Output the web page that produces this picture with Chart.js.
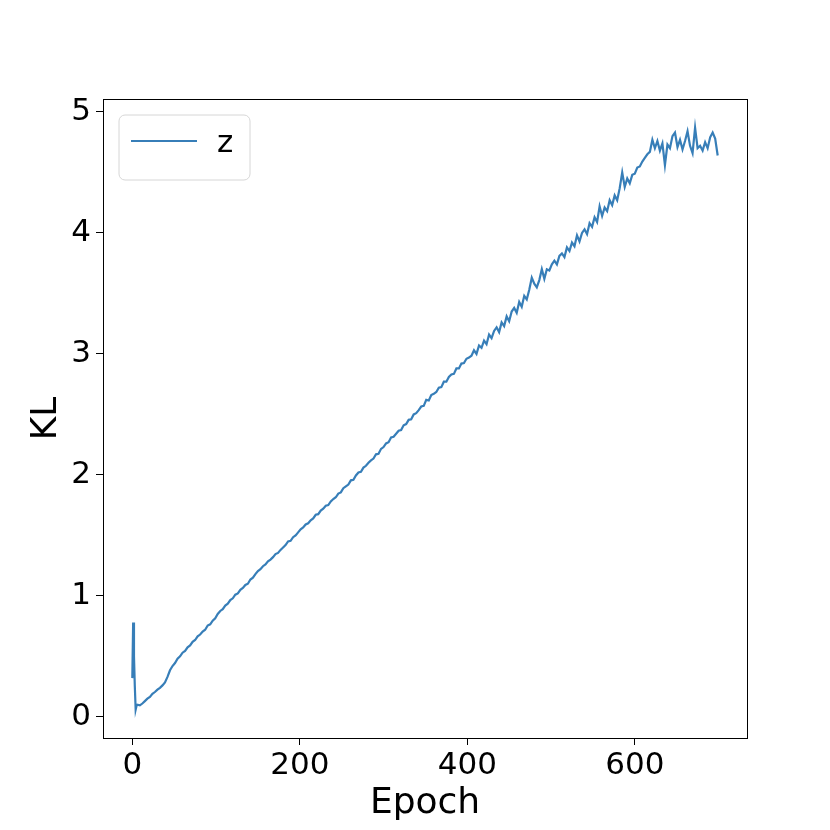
<!DOCTYPE html>
<html>
<head>
    <script src="https://cdn.jsdelivr.net/npm/chart.js@4.4.0/dist/chart.umd.min.js"></script>
    <style>
        body { margin: 0; background: #fff; }
    </style>
</head>
<body>
    <canvas id="grafico" width="830" height="830"></canvas>

    <script>
        // epoch values (denser at the start where the spike is)
        const epochs = [
            0, 1, 2, 3, 4, 5, 6, 9, 12, 15,
            18, 21, 24, 27, 30, 33, 36, 39, 42, 45,
            48, 51, 54, 57, 60, 63, 66, 69, 72, 75,
            78, 81, 84, 87, 90, 93, 96, 99, 102, 105,
            108, 111, 114, 117, 120, 123, 126, 129, 132, 135,
            138, 141, 144, 147, 150, 153, 156, 159, 162, 165,
            168, 171, 174, 177, 180, 183, 186, 189, 192, 195,
            198, 201, 204, 207, 210, 213, 216, 219, 222, 225,
            228, 231, 234, 237, 240, 243, 246, 249, 252, 255,
            258, 261, 264, 267, 270, 273, 276, 279, 282, 285,
            288, 291, 294, 297, 300, 303, 306, 309, 312, 315,
            318, 321, 324, 327, 330, 333, 336, 339, 342, 345,
            348, 351, 354, 357, 360, 363, 366, 369, 372, 375,
            378, 381, 384, 387, 390, 393, 396, 399, 402, 405,
            408, 411, 414, 417, 420, 423, 426, 429, 432, 435,
            438, 441, 444, 447, 450, 453, 456, 459, 462, 465,
            468, 471, 474, 477, 480, 483, 486, 489, 492, 495,
            498, 501, 504, 507, 510, 513, 516, 519, 522, 525,
            528, 531, 534, 537, 540, 543, 546, 549, 552, 555,
            558, 561, 564, 567, 570, 573, 576, 579, 582, 585,
            588, 591, 594, 597, 600, 603, 606, 609, 612, 615,
            618, 621, 624, 627, 630, 633, 636, 639, 642, 645,
            648, 651, 654, 657, 660, 663, 666, 669, 672, 675,
            678, 681, 684, 687, 690, 693, 696, 699
        ];

        const klZ = [
            0.32, 0.78, 0.50, 0.25, 0.06, 0.09, 0.10, 0.095, 0.11, 0.13,
            0.15, 0.165, 0.19, 0.205, 0.225, 0.24, 0.26, 0.285, 0.33, 0.385,
            0.42, 0.445, 0.48, 0.50, 0.53, 0.545, 0.575, 0.59, 0.62, 0.635,
            0.665, 0.68, 0.705, 0.72, 0.755, 0.765, 0.795, 0.815, 0.85, 0.875,
            0.89, 0.92, 0.935, 0.965, 0.98, 1.01, 1.02, 1.05, 1.065, 1.09,
            1.10, 1.135, 1.15, 1.18, 1.205, 1.22, 1.245, 1.26, 1.285, 1.30,
            1.32, 1.345, 1.355, 1.38, 1.40, 1.42, 1.45, 1.455, 1.485, 1.50,
            1.525, 1.55, 1.565, 1.59, 1.60, 1.625, 1.64, 1.67, 1.675, 1.705,
            1.72, 1.745, 1.75, 1.78, 1.80, 1.815, 1.845, 1.855, 1.89, 1.905,
            1.92, 1.955, 1.96, 1.995, 2.02, 2.025, 2.06, 2.075, 2.10, 2.12,
            2.135, 2.17, 2.175, 2.215, 2.23, 2.26, 2.27, 2.31, 2.315, 2.34,
            2.365, 2.37, 2.41, 2.42, 2.455, 2.46, 2.50, 2.51, 2.535, 2.565,
            2.57, 2.62, 2.615, 2.66, 2.67, 2.685, 2.72, 2.725, 2.77, 2.77,
            2.81, 2.83, 2.835, 2.88, 2.88, 2.92, 2.925, 2.96, 2.97, 2.985,
            3.03, 3.00, 3.07, 3.05, 3.11, 3.08, 3.16, 3.13, 3.19, 3.22,
            3.18, 3.26, 3.23, 3.31, 3.27, 3.35, 3.38, 3.34, 3.43, 3.39,
            3.48, 3.45, 3.53, 3.63, 3.58, 3.55, 3.61, 3.70, 3.62, 3.70,
            3.69, 3.74, 3.77, 3.74, 3.81, 3.83, 3.80, 3.88, 3.85, 3.92,
            3.89, 3.98, 3.93, 4.00, 4.03, 3.99, 4.08, 4.05, 4.13, 4.09,
            4.22, 4.14, 4.21, 4.18, 4.27, 4.23, 4.31, 4.27, 4.37, 4.50,
            4.38, 4.45, 4.41, 4.48, 4.49, 4.54, 4.55, 4.59, 4.62, 4.65,
            4.67, 4.77, 4.70, 4.76, 4.68, 4.74, 4.56, 4.73, 4.70, 4.80,
            4.83, 4.71, 4.77, 4.69, 4.76, 4.84, 4.72, 4.66, 4.87, 4.70,
            4.72, 4.68, 4.75, 4.70, 4.79, 4.83, 4.78, 4.64
        ];

        const xTicks = [0, 200, 400, 600];
        const yTicks = [0, 1, 2, 3, 4, 5];
        const serieName = 'z';
        const colore = '#377eb8';
        const fontFam = "'DejaVu Sans', sans-serif";

        // box around the plot + legend inside the axes, like matplotlib
        const cornice = {
            id: 'cornice',
            afterDraw(chart) {
                const ctx = chart.ctx;
                const a = chart.chartArea;
                ctx.save();
                ctx.strokeStyle = '#000';
                ctx.lineWidth = 1;
                ctx.strokeRect(a.left + 0.5, a.top + 0.5, a.right - a.left, a.bottom - a.top);

                // legenda
                const bx = a.left + 16, by = a.top + 16, bw = 131, bh = 65, r = 6;
                ctx.beginPath();
                ctx.moveTo(bx + r, by);
                ctx.arcTo(bx + bw, by, bx + bw, by + bh, r);
                ctx.arcTo(bx + bw, by + bh, bx, by + bh, r);
                ctx.arcTo(bx, by + bh, bx, by, r);
                ctx.arcTo(bx, by, bx + bw, by, r);
                ctx.closePath();
                ctx.fillStyle = 'rgba(255,255,255,0.8)';
                ctx.fill();
                ctx.strokeStyle = '#d6d6d6';
                ctx.lineWidth = 1;
                ctx.stroke();

                ctx.beginPath();
                ctx.moveTo(bx + 12, by + 26);
                ctx.lineTo(bx + 78, by + 26);
                ctx.strokeStyle = colore;
                ctx.lineWidth = 2.2;
                ctx.stroke();

                ctx.fillStyle = '#000';
                ctx.font = '31px ' + fontFam;
                ctx.textBaseline = 'alphabetic';
                ctx.fillText(serieName, bx + 98, by + 37);
                ctx.restore();
            }
        };

        const ctx = document.getElementById('grafico').getContext('2d');
        const chart = new Chart(ctx, {
            type: 'line',
            data: {
                datasets: [{
                    label: serieName,
                    data: epochs.map((e, i) => ({ x: e, y: klZ[i] })),
                    borderColor: colore,
                    borderWidth: 2.2,
                    pointRadius: 0,
                    tension: 0,
                    fill: false
                }]
            },
            options: {
                responsive: false,
                animation: false,
                devicePixelRatio: 1,
                layout: { padding: { top: 99, right: 83, left: 0, bottom: 0 } },
                plugins: {
                    legend: { display: false },
                    tooltip: { enabled: false }
                },
                scales: {
                    x: {
                        type: 'linear',
                        min: -35,
                        max: 734,
                        afterBuildTicks: s => { s.ticks = xTicks.map(v => ({ value: v })); },
                        afterFit: s => { s.height = 92; },
                        grid: { display: true, drawOnChartArea: false, drawTicks: true, tickLength: 7, color: '#000' },
                        border: { display: true, color: '#000', width: 1 },
                        ticks: { color: '#000', font: { family: fontFam, size: 31 }, padding: 2, maxRotation: 0 },
                        title: { display: true, text: 'Epoch', color: '#000', font: { family: fontFam, size: 36 }, padding: { top: 0, bottom: 5 } }
                    },
                    y: {
                        type: 'linear',
                        min: -0.175,
                        max: 5.107,
                        afterBuildTicks: s => { s.ticks = yTicks.map(v => ({ value: v })); },
                        afterFit: s => { s.width = 103; },
                        grid: { display: true, drawOnChartArea: false, drawTicks: true, tickLength: 7, color: '#000' },
                        border: { display: true, color: '#000', width: 1 },
                        ticks: { color: '#000', font: { family: fontFam, size: 31 }, padding: 5 },
                        title: { display: true, text: 'KL', color: '#000', font: { family: fontFam, size: 36 }, padding: { top: 25, bottom: 0 } }
                    }
                }
            },
            plugins: [cornice]
        });
    </script>
</body>
</html>
